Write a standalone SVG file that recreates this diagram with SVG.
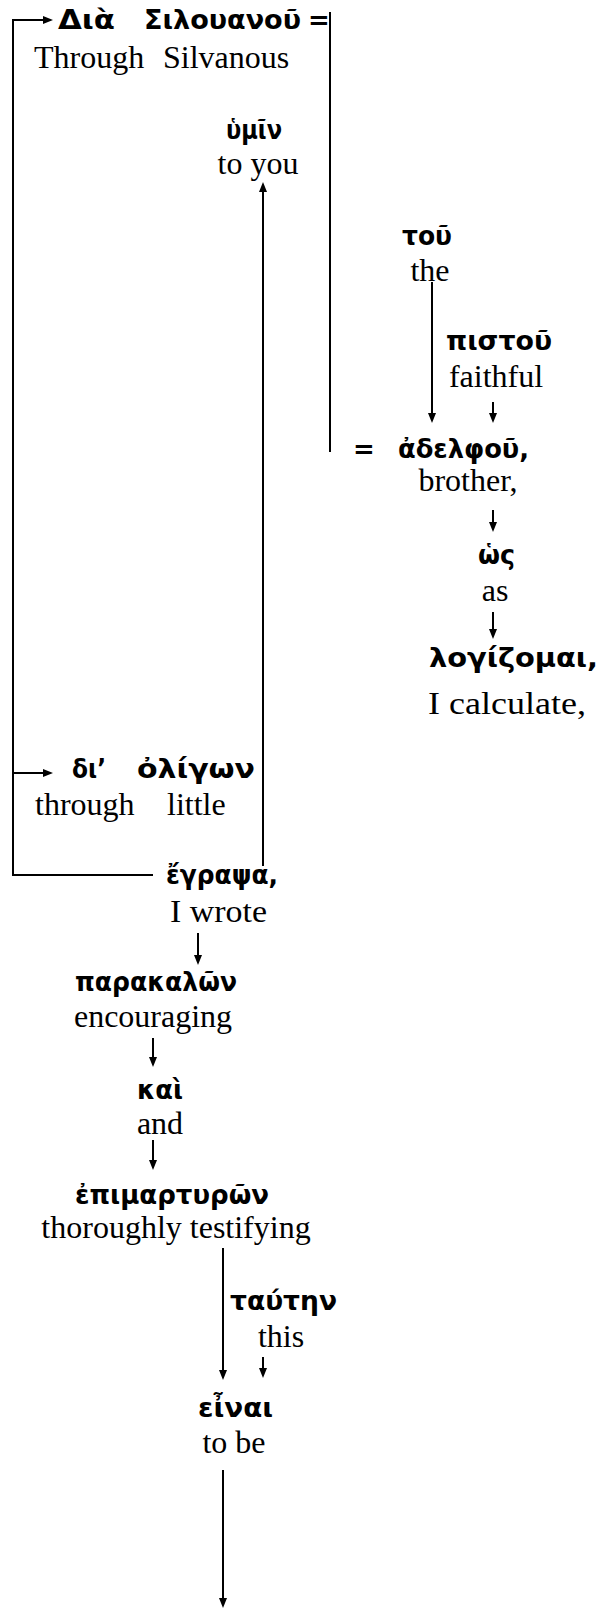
<svg xmlns="http://www.w3.org/2000/svg" width="600" height="1611" viewBox="0 0 600 1611">
<style>
.g{font-family:"DejaVu Sans","Noto Sans",sans-serif;font-weight:bold;font-size:26px;fill:#000}
.e{font-family:"Liberation Serif","Times New Roman",serif;font-size:32px;fill:#000}
.c{fill:none;stroke:#000;stroke-width:2}
</style>
<defs>
<marker id="ah" viewBox="0 0 10 10" refX="5" refY="5" markerWidth="10" markerHeight="10" markerUnits="userSpaceOnUse" orient="auto"><path d="M0,1 L10,5 L0,9 z" fill="#000"/></marker>
</defs>
<rect width="600" height="1611" fill="#fff"/>
<g id="connectors">
<path class="c" d="M48,20 H13 V875 H153"/>
<path class="c" d="M13,20 H48" marker-end="url(#ah)"/>
<path class="c" d="M13,773 H48" marker-end="url(#ah)"/>
<path class="c" d="M330,12 V452"/>
<path class="c" d="M263,866 V187" marker-end="url(#ah)"/>
<path class="c" d="M432,282 V418" marker-end="url(#ah)"/>
<path class="c" d="M493,402 V418" marker-end="url(#ah)"/>
<path class="c" d="M493,510 V527" marker-end="url(#ah)"/>
<path class="c" d="M493,612 V634" marker-end="url(#ah)"/>
<path class="c" d="M198,933 V960" marker-end="url(#ah)"/>
<path class="c" d="M153,1038 V1062" marker-end="url(#ah)"/>
<path class="c" d="M153,1140 V1165" marker-end="url(#ah)"/>
<path class="c" d="M223,1248 V1375" marker-end="url(#ah)"/>
<path class="c" d="M263,1357 V1373" marker-end="url(#ah)"/>
<path class="c" d="M223,1470 V1603" marker-end="url(#ah)"/>
</g>
<g id="n-dia">
<text class="g" x="58" y="29" textLength="57" lengthAdjust="spacingAndGlyphs">Διὰ</text>
<text class="g" x="144" y="29" textLength="157" lengthAdjust="spacingAndGlyphs">Σιλουανοῦ</text>
<text class="g" x="308" y="29">=</text>
<text class="e" x="34" y="68">Through</text>
<text class="e" x="163" y="68">Silvanous</text>
</g>
<g id="n-hymin">
<text class="g" x="226" y="139" textLength="56" lengthAdjust="spacingAndGlyphs">ὑμῖν</text>
<text class="e" x="258" y="174" text-anchor="middle">to you</text>
</g>
<g id="n-tou">
<text class="g" x="402" y="245" textLength="50" lengthAdjust="spacingAndGlyphs">τοῦ</text>
<text class="e" x="430" y="281" text-anchor="middle">the</text>
</g>
<g id="n-pistou">
<text class="g" x="446" y="350" textLength="106" lengthAdjust="spacingAndGlyphs">πιστοῦ</text>
<text class="e" x="496" y="387" text-anchor="middle">faithful</text>
</g>
<g id="n-adelphou">
<text class="g" x="353" y="458">=</text>
<text class="g" x="398" y="458" textLength="131" lengthAdjust="spacingAndGlyphs">ἀδελφοῦ,</text>
<text class="e" x="468" y="491" text-anchor="middle">brother,</text>
</g>
<g id="n-hos">
<text class="g" x="478" y="564" textLength="37" lengthAdjust="spacingAndGlyphs">ὡς</text>
<text class="e" x="495" y="601" text-anchor="middle">as</text>
</g>
<g id="n-logizomai">
<text class="g" x="429" y="667" textLength="169" lengthAdjust="spacingAndGlyphs">λογίζομαι,</text>
<text class="e" x="428" y="714" textLength="158" lengthAdjust="spacingAndGlyphs">I calculate,</text>
</g>
<g id="n-di-oligon">
<text class="g" x="72" y="778" textLength="34" lengthAdjust="spacingAndGlyphs">δι’</text>
<text class="g" x="137" y="778" textLength="118" lengthAdjust="spacingAndGlyphs">ὀλίγων</text>
<text class="e" x="35" y="815">through</text>
<text class="e" x="167" y="815">little</text>
</g>
<g id="n-egrapsa">
<text class="g" x="166" y="884" textLength="112" lengthAdjust="spacingAndGlyphs">ἔγραψα,</text>
<text class="e" x="170" y="922" textLength="97" lengthAdjust="spacingAndGlyphs">I wrote</text>
</g>
<g id="n-parakalon">
<text class="g" x="75" y="991" textLength="162" lengthAdjust="spacingAndGlyphs">παρακαλῶν</text>
<text class="e" x="153" y="1027" text-anchor="middle">encouraging</text>
</g>
<g id="n-kai">
<text class="g" x="137" y="1099" textLength="46" lengthAdjust="spacingAndGlyphs">καὶ</text>
<text class="e" x="160" y="1134" text-anchor="middle">and</text>
</g>
<g id="n-epimarturon">
<text class="g" x="75" y="1204" textLength="194" lengthAdjust="spacingAndGlyphs">ἐπιμαρτυρῶν</text>
<text class="e" x="176" y="1238" text-anchor="middle">thoroughly testifying</text>
</g>
<g id="n-tauten">
<text class="g" x="230" y="1310" textLength="107" lengthAdjust="spacingAndGlyphs">ταύτην</text>
<text class="e" x="281" y="1347" text-anchor="middle">this</text>
</g>
<g id="n-einai">
<text class="g" x="198" y="1417" textLength="75" lengthAdjust="spacingAndGlyphs">εἶναι</text>
<text class="e" x="234" y="1453" text-anchor="middle">to be</text>
</g>
</svg>
